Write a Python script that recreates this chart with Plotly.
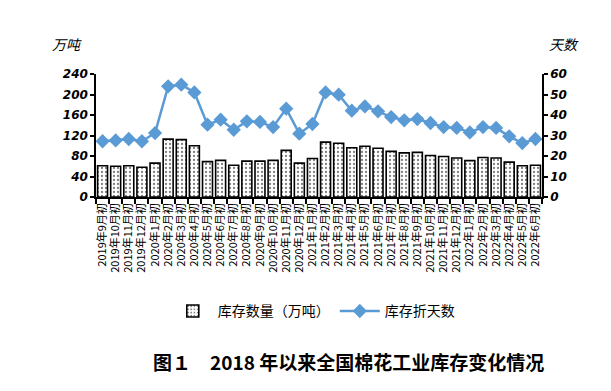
import plotly.graph_objects as go

categories = [
    "2019年9月初", "2019年10月初", "2019年11月初", "2019年12月初",
    "2020年1月初", "2020年2月初", "2020年3月初", "2020年4月初", "2020年5月初", "2020年6月初",
    "2020年7月初", "2020年8月初", "2020年9月初", "2020年10月初", "2020年11月初", "2020年12月初",
    "2021年1月初", "2021年2月初", "2021年3月初", "2021年4月初", "2021年5月初", "2021年6月初",
    "2021年7月初", "2021年8月初", "2021年9月初", "2021年10月初", "2021年11月初", "2021年12月初",
    "2022年1月初", "2022年2月初", "2022年3月初", "2022年4月初", "2022年5月初", "2022年6月初",
]
stock = [61, 60, 61, 58, 66, 113, 112, 100, 69, 71.5, 62, 70, 70, 71.5, 91, 66,
         75, 107, 105, 96, 99, 95, 89, 86, 87, 81, 79, 76, 71, 77, 76, 68, 61, 62]
days = [27.2, 27.6, 28.3, 27.2, 31.2, 54, 54.8, 51, 35.3, 37.7, 32.8, 36.9, 36.6, 34.1,
        43.1, 30.9, 35.6, 51, 49.9, 42.1, 44.2, 41.8, 39, 37.4, 38, 36.1, 34.1, 33.7,
        31.5, 34.1, 33.7, 29.6, 26.3, 28.3]
left_ticks = [0, 40, 80, 120, 160, 200, 240]
right_ticks = [0, 10, 20, 30, 40, 50, 60]

CJK = "Noto Sans CJK SC"
tickfont = dict(family="DejaVu Sans", size=12, color="black", weight="bold", style="italic")

fig = go.Figure()
fig.add_trace(go.Bar(
    x=categories, y=stock, name="库存数量（万吨）",
    marker=dict(color="white", line=dict(color="black", width=1.6),
                pattern=dict(shape=".", fgcolor="black", bgcolor="white", size=4, solidity=0.25)),
    yaxis="y",
))
fig.add_trace(go.Scatter(
    x=categories, y=days, name="库存折天数", mode="lines+markers",
    line=dict(color="#5B9BD5", width=2.5),
    marker=dict(symbol="diamond", size=11, color="#5B9BD5"),
    yaxis="y2",
))

fig.update_layout(
    width=611, height=391,
    margin=dict(l=96, r=69, t=74, b=194, autoexpand=False),
    paper_bgcolor="white", plot_bgcolor="white",
    bargap=0.24,
    showlegend=True,
    legend=dict(orientation="h", x=0.161, xanchor="left", y=-0.93, yanchor="middle",
                font=dict(family=CJK, size=14, color="black"), itemwidth=40,
                bgcolor="rgba(0,0,0,0)"),
    xaxis=dict(type="category", range=[-0.5, len(categories) - 0.5],
               tickmode="array", tickvals=categories, ticktext=categories,
               tickangle=-90, ticks="outside", tickson="boundaries",
               ticklen=5, tickcolor="black", tickwidth=1.5, automargin=False,
               showline=True, linecolor="black", linewidth=1.5,
               tickfont=dict(family=CJK, size=11, color="black"), showgrid=False),
    yaxis=dict(range=[0, 240], tickvals=left_ticks, ticks="outside", ticklen=4,
               tickcolor="black", tickwidth=1.5, showline=True, linecolor="black",
               linewidth=1.5, showgrid=False, zeroline=False, tickfont=tickfont,
               automargin=False),
    yaxis2=dict(range=[0, 60], tickvals=right_ticks, overlaying="y", side="right",
                ticks="outside", ticklen=4, tickcolor="black", tickwidth=1.5,
                showline=True, linecolor="black", linewidth=1.5, showgrid=False,
                zeroline=False, tickfont=tickfont, automargin=False),
    annotations=[
        dict(text="万吨", xref="paper", yref="paper", x=-0.065, y=1.24, showarrow=False,
             xanchor="center", yanchor="middle",
             font=dict(family=CJK, size=14, color="black", style="italic")),
        dict(text="天数", xref="paper", yref="paper", x=1.05, y=1.24, showarrow=False,
             xanchor="center", yanchor="middle",
             font=dict(family=CJK, size=14, color="black", style="italic")),
        dict(text="图１　2018 年以来全国棉花工业库存变化情况", xref="paper", yref="paper",
             x=0.566, y=-1.34, showarrow=False, xanchor="center", yanchor="middle",
             font=dict(family=CJK, size=19, color="black", weight="bold")),
    ],
)

fig.write_html("out.html", config={"displayModeBar": False},
               post_script="document.body.style.margin='0';")
